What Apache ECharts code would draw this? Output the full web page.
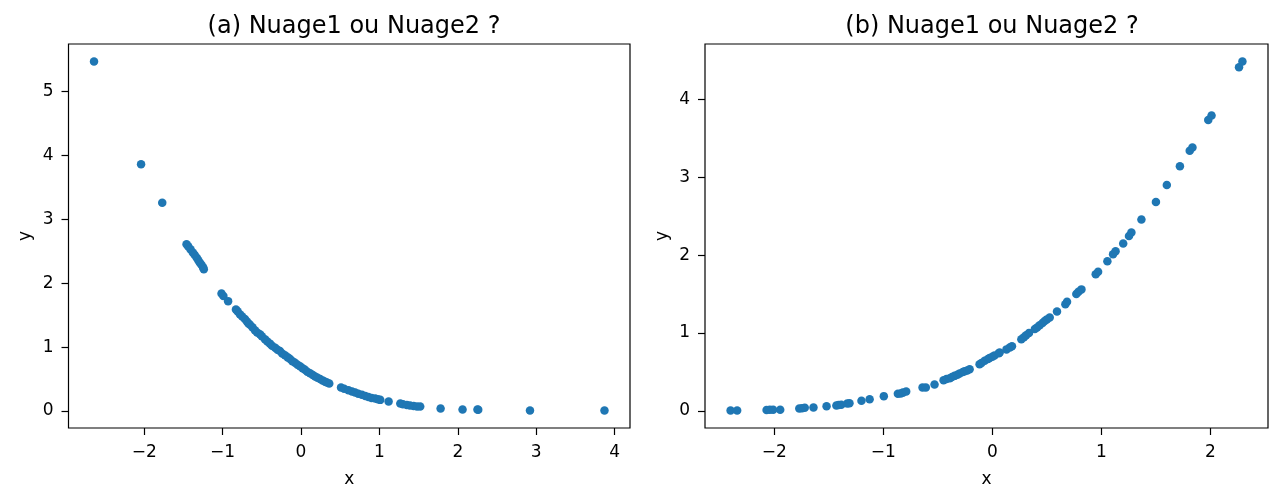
<!DOCTYPE html>
<html style="height: 100%">
  <head>
    <meta charset="utf-8" />
  </head>
  <body style="height: 100%; margin: 0; background: #fff">
    <div id="container" style="width: 1281px; height: 503px"></div>
    <script
      type="text/javascript"
      src="https://cdn.jsdelivr.net/npm/echarts@6/dist/echarts.min.js"
    ></script>

    <script type="text/javascript">
      var dom = document.getElementById("container");
      var myChart = echarts.init(dom);

      // (a) Nuage1 ou Nuage2 ?  -- [x, y]
      // prettier-ignore
      let nuageA = [
        [-2.64, 5.47], [-2.04, 3.86], [-1.77, 3.26],
        [-1.46, 2.61], [-1.44, 2.58], [-1.41, 2.53], [-1.38, 2.48], [-1.355, 2.44], [-1.33, 2.40],
        [-1.31, 2.36], [-1.29, 2.32], [-1.27, 2.29], [-1.25, 2.25], [-1.24, 2.22],
        [-1.014, 1.84], [-0.99, 1.80], [-0.93, 1.72],
        [-0.83, 1.59], [-0.81, 1.56], [-0.78, 1.515], [-0.75, 1.48], [-0.716, 1.44], [-0.69, 1.40],
        [-0.67, 1.37], [-0.65, 1.35], [-0.62, 1.31], [-0.588, 1.265], [-0.56, 1.23], [-0.524, 1.20],
        [-0.50, 1.17], [-0.46, 1.125], [-0.43, 1.09], [-0.396, 1.055], [-0.37, 1.02], [-0.33, 0.99],
        [-0.30, 0.96], [-0.27, 0.94], [-0.24, 0.90], [-0.205, 0.875], [-0.17, 0.84], [-0.14, 0.815],
        [-0.11, 0.78], [-0.077, 0.755], [-0.045, 0.725], [-0.013, 0.70], [0.02, 0.67], [0.05, 0.645],
        [0.08, 0.615], [0.115, 0.59], [0.15, 0.565], [0.18, 0.54], [0.21, 0.52], [0.243, 0.50],
        [0.275, 0.48], [0.307, 0.46], [0.33, 0.445], [0.36, 0.43],
        [0.51, 0.37], [0.55, 0.35], [0.605, 0.325], [0.65, 0.305], [0.69, 0.29], [0.73, 0.27],
        [0.776, 0.255], [0.82, 0.235], [0.86, 0.22], [0.90, 0.205], [0.946, 0.195], [0.98, 0.185],
        [1.01, 0.175], [1.117, 0.149],
        [1.266, 0.117], [1.30, 0.105], [1.35, 0.095], [1.39, 0.088], [1.436, 0.08], [1.48, 0.073],
        [1.52, 0.07], [1.78, 0.04], [2.06, 0.023], [2.25, 0.023], [2.26, 0.022], [2.92, 0.008],
        [3.87, 0.008]
      ];

      // (b) Nuage1 ou Nuage2 ?
      // prettier-ignore
      let nuageB = [
        [-2.40, 0.005], [-2.34, 0.005],
        [-2.07, 0.013], [-2.04, 0.015], [-2.01, 0.015], [-1.945, 0.015],
        [-1.77, 0.03], [-1.745, 0.035], [-1.72, 0.04], [-1.64, 0.045], [-1.52, 0.06], [-1.43, 0.07],
        [-1.41, 0.075], [-1.385, 0.08], [-1.33, 0.095], [-1.31, 0.10], [-1.20, 0.13], [-1.125, 0.15],
        [-0.995, 0.19], [-0.866, 0.22], [-0.84, 0.225], [-0.82, 0.235], [-0.79, 0.25],
        [-0.64, 0.30], [-0.61, 0.30], [-0.53, 0.34], [-0.447, 0.394], [-0.42, 0.41], [-0.39, 0.42],
        [-0.37, 0.435], [-0.346, 0.45], [-0.32, 0.465], [-0.30, 0.48], [-0.27, 0.50], [-0.254, 0.51],
        [-0.23, 0.52], [-0.208, 0.535],
        [-0.117, 0.60], [-0.10, 0.615], [-0.07, 0.645], [-0.04, 0.665], [-0.025, 0.68], [0.0, 0.695],
        [0.02, 0.71], [0.06, 0.74], [0.067, 0.75], [0.13, 0.79], [0.16, 0.815], [0.18, 0.83],
        [0.266, 0.92], [0.29, 0.945], [0.31, 0.97], [0.336, 1.0], [0.39, 1.05], [0.41, 1.07],
        [0.434, 1.10], [0.46, 1.13], [0.48, 1.155], [0.50, 1.175], [0.526, 1.20],
        [0.593, 1.275], [0.67, 1.37], [0.685, 1.40], [0.77, 1.50], [0.79, 1.53], [0.817, 1.56],
        [0.948, 1.755], [0.97, 1.785], [1.055, 1.92], [1.107, 2.01], [1.13, 2.05], [1.20, 2.15],
        [1.253, 2.245], [1.275, 2.29], [1.367, 2.457], [1.50, 2.68], [1.60, 2.90], [1.72, 3.14],
        [1.81, 3.34], [1.835, 3.38], [1.98, 3.735], [2.01, 3.79], [2.262, 4.41], [2.293, 4.485]
      ];

      let titles = ["(a) Nuage1 ou Nuage2 ?", "(b) Nuage1 ou Nuage2 ?"];
      let ticksAX = [-2, -1, 0, 1, 2, 3, 4];
      let ticksAY = [0, 1, 2, 3, 4, 5];
      let ticksBX = [-2, -1, 0, 1, 2];
      let ticksBY = [0, 1, 2, 3, 4];

      const font = "DejaVu Sans";
      const ink = "#000";

      // matplotlib style 5% margins
      function limits(data, k) {
        let vals = data.map((d) => d[k]);
        let lo = Math.min.apply(null, vals);
        let hi = Math.max.apply(null, vals);
        let m = (hi - lo) * 0.05;
        return [lo - m, hi + m];
      }

      function fmt(v) {
        return String(v).replace("-", "\u2212");
      }

      function axis(type, gridIndex, lim, ticks, name, gap) {
        return {
          type: "value",
          gridIndex: gridIndex,
          min: lim[0],
          max: lim[1],
          name: name,
          nameLocation: "middle",
          nameGap: gap,
          nameTextStyle: { fontFamily: font, fontSize: 17, color: ink },
          axisLine: { show: false, onZero: false },
          splitLine: { show: false },
          axisTick: {
            show: true,
            length: 7,
            customValues: ticks,
            lineStyle: { color: ink, width: 1.2 },
          },
          axisLabel: {
            customValues: ticks,
            margin: type === "x" ? 16 : 15,
            fontFamily: font,
            fontSize: 17,
            color: ink,
            formatter: fmt,
          },
        };
      }

      let limAX = limits(nuageA, 0), limAY = limits(nuageA, 1);
      let limBX = limits(nuageB, 0), limBY = limits(nuageB, 1);

      let gridBox = { show: true, borderColor: ink, borderWidth: 1.2, top: 44, height: 384 };
      let titleStyle = { fontFamily: font, fontSize: 24, fontWeight: "normal", color: ink };

      let option = {
        animation: false,
        title: [
          { text: titles[0], left: 349, top: 10, textAlign: "center", textStyle: titleStyle },
          { text: titles[1], left: 987, top: 10, textAlign: "center", textStyle: titleStyle },
        ],
        grid: [
          Object.assign({ left: 68.5, width: 561.5 }, gridBox),
          Object.assign({ left: 705, width: 563 }, gridBox),
        ],
        xAxis: [
          axis("x", 0, limAX, ticksAX, "x", 43),
          axis("x", 1, limBX, ticksBX, "x", 43),
        ],
        yAxis: [
          axis("y", 0, limAY, ticksAY, "y", 34),
          axis("y", 1, limBY, ticksBY, "y", 34),
        ],
        series: [
          { type: "scatter", xAxisIndex: 0, yAxisIndex: 0, data: nuageA,
            symbolSize: 8.5, itemStyle: { color: "#1f77b4", opacity: 1 } },
          { type: "scatter", xAxisIndex: 1, yAxisIndex: 1, data: nuageB,
            symbolSize: 8.5, itemStyle: { color: "#1f77b4", opacity: 1 } },
        ],
      };

      myChart.setOption(option);
    </script>
  </body>
</html>
